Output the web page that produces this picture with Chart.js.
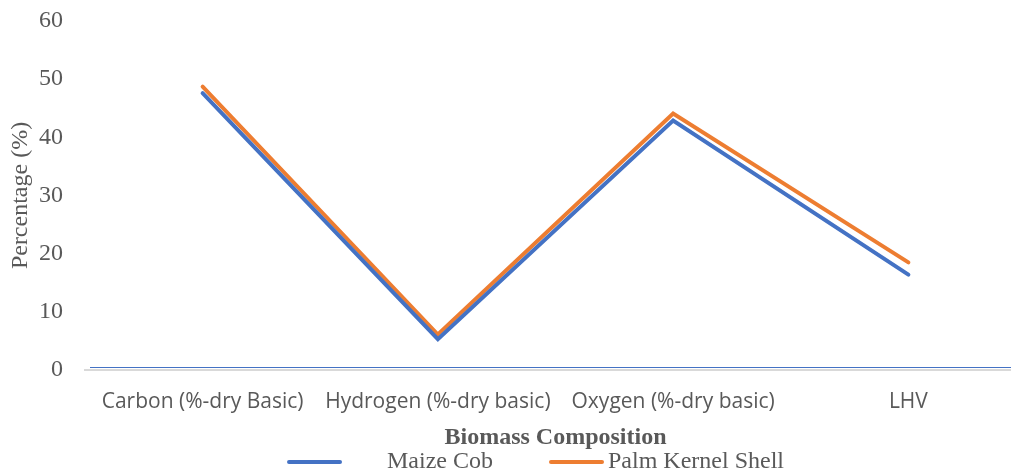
<!DOCTYPE html>
<html>
<head>
<meta charset="utf-8">
<script src="https://cdn.jsdelivr.net/npm/chart.js@4/dist/chart.umd.min.js"></script>
<style>
  html, body { margin: 0; padding: 0; background: #ffffff; overflow: hidden; }
  #wrap { position: relative; width: 1026px; height: 473px; }
</style>
</head>
<body>
<div id="wrap"><canvas id="chart"></canvas></div>
<script>
// Biomass composition of two feedstocks
const categories = ['Carbon (%-dry Basic)', 'Hydrogen (%-dry basic)', 'Oxygen (%-dry basic)', 'LHV'];
const maizeCob = [47.6, 5.3, 42.9, 16.4];
const palmKernelShell = [48.7, 6.1, 44.1, 18.5];
const yTicks = [0, 10, 20, 30, 40, 50, 60];
const baselineValue = 0.55;

const serif = "'Liberation Serif', 'Times New Roman', serif";
const sans = "'Open Sans', 'Liberation Sans', sans-serif";
const textGrey = '#595959';

// Thin blue rule running along the bottom of the plot
const baselinePlugin = {
  id: 'baseline',
  afterDatasetsDraw(chart) {
    const { ctx, chartArea, scales } = chart;
    const y = Math.round(scales.y.getPixelForValue(baselineValue)) + 0.5;
    ctx.save();
    ctx.strokeStyle = '#4472C4';
    ctx.lineWidth = 1;
    ctx.beginPath();
    ctx.moveTo(chartArea.left + 5, y);
    ctx.lineTo(chartArea.right, y);
    ctx.stroke();
    ctx.restore();
  }
};

// Legend row under the axis title: line sample followed by series name
const lineLegendPlugin = {
  id: 'lineLegend',
  afterDraw(chart) {
    const { ctx, chartArea } = chart;
    const sample = 55;
    const gapAfterSample = [45, 4];
    const gapBetween = 56;
    ctx.save();
    ctx.font = `24px ${serif}`;
    ctx.textBaseline = 'middle';
    const items = chart.data.datasets.map((ds, i) => ({
      color: ds.borderColor,
      text: ds.label,
      textWidth: ctx.measureText(ds.label).width,
      gap: gapAfterSample[i]
    }));
    let total = 0;
    items.forEach((it, i) => {
      total += sample + it.gap + it.textWidth + (i < items.length - 1 ? gapBetween : 0);
    });
    const center = (chartArea.left + chartArea.right) / 2 - 20;
    let x = center - total / 2;
    const y = chart.height - 11;
    items.forEach(it => {
      ctx.strokeStyle = it.color;
      ctx.lineWidth = 4;
      ctx.lineCap = 'round';
      ctx.beginPath();
      ctx.moveTo(x + 2, y);
      ctx.lineTo(x + sample - 2, y);
      ctx.stroke();
      x += sample + it.gap;
      ctx.fillStyle = textGrey;
      ctx.fillText(it.text, x, y);
      x += it.textWidth + gapBetween;
    });
    ctx.restore();
  }
};

new Chart(document.getElementById('chart'), {
  type: 'line',
  data: {
    labels: categories,
    datasets: [
      {
        label: 'Maize Cob',
        data: maizeCob,
        borderColor: '#4472C4',
        backgroundColor: '#4472C4',
        borderWidth: 4,
        borderCapStyle: 'round',
        borderJoinStyle: 'miter',
        pointRadius: 0,
        tension: 0
      },
      {
        label: 'Palm Kernel Shell',
        data: palmKernelShell,
        borderColor: '#ED7D31',
        backgroundColor: '#ED7D31',
        borderWidth: 4,
        borderCapStyle: 'round',
        borderJoinStyle: 'miter',
        pointRadius: 0,
        tension: 0
      }
    ]
  },
  options: {
    responsive: true,
    maintainAspectRatio: false,
    animation: false,
    layout: { padding: { top: 21, left: 0, right: 0, bottom: 23 } },
    plugins: {
      tooltip: { enabled: false },
      legend: { display: false }
    },
    scales: {
      x: {
        offset: true,
        afterFit(scale) {
          scale.paddingLeft = 0;
          scale.paddingRight = 0;
          scale.height = 80;
        },
        grid: { display: false, drawTicks: false },
        border: { display: true, color: '#d9d9d9', width: 2 },
        ticks: {
          font: { family: sans, size: 21, lineHeight: 1 },
          color: textGrey,
          padding: 22,
          maxRotation: 0,
          autoSkip: false
        },
        title: {
          display: true,
          text: 'Biomass Composition',
          font: { family: serif, size: 24, weight: 'bold', lineHeight: 1 },
          color: textGrey,
          padding: { top: 12, bottom: 0 }
        }
      },
      y: {
        min: yTicks[0],
        max: yTicks[yTicks.length - 1],
        afterBuildTicks(scale) {
          scale.ticks = yTicks.map(v => ({ value: v }));
        },
        afterFit(scale) {
          scale.paddingTop = 0;
          scale.paddingBottom = 0;
          scale.width = 85;
        },
        grid: { display: false, drawTicks: false },
        border: { display: false },
        ticks: {
          font: { family: serif, size: 24 },
          color: textGrey,
          padding: 22
        },
        title: {
          display: true,
          text: 'Percentage (%)',
          font: { family: serif, size: 24 },
          color: textGrey,
          padding: { top: 6, bottom: 4 }
        }
      }
    }
  },
  plugins: [baselinePlugin, lineLegendPlugin]
});
</script>
</body>
</html>
